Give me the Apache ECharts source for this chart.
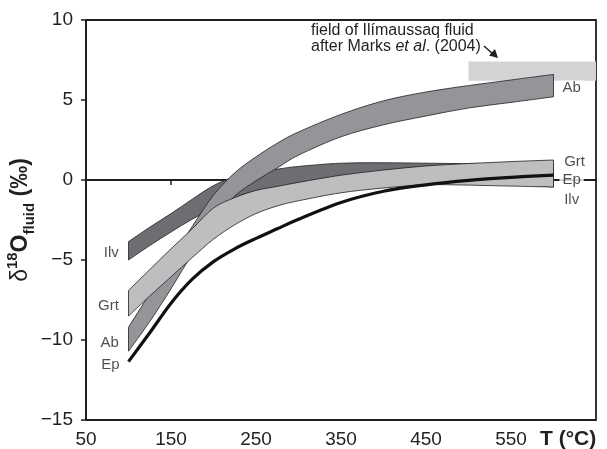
<!DOCTYPE html>
<html>
<head>
<meta charset="utf-8">
<script src="https://cdn.jsdelivr.net/npm/echarts@6/dist/echarts.min.js"></script>
<style>
  html, body { margin: 0; padding: 0; background: #fff; }
  #chart { width: 607px; height: 449px; }
</style>
</head>
<body>
<div id="chart"></div>
<script>
  // temperature grid (°C) shared by all bands
  const temps = [100, 125, 150, 175, 200, 225, 250, 275, 300, 350, 400, 450, 500, 550, 600]

  // band edges, δ18O fluid (‰)
  const ilvTop = [-3.85, -2.95, -2.1, -1.2, -0.35, 0.2, 0.5, 0.68, 0.85, 1.05, 1.08, 1.05, 1.02, 1.0, 1.0]
  const ilvBottom = [-5.0, -4.1, -3.25, -2.45, -1.75, -1.1, -0.7, -0.5, -0.3, -0.1, 0.0, 0.0, -0.1, -0.25, -0.44]
  const abTop = [-9.2, -7.1, -5.0, -2.9, -0.95, 0.45, 1.45, 2.3, 3.0, 4.1, 4.95, 5.5, 5.9, 6.25, 6.6]
  const abBottom = [-10.7, -8.85, -6.8, -4.6, -2.5, -1.0, -0.05, 0.75, 1.55, 2.7, 3.45, 4.0, 4.5, 4.85, 5.2]
  const grtTop = [-6.9, -5.6, -4.3, -3.05, -1.75, -1.1, -0.65, -0.4, -0.15, 0.3, 0.62, 0.88, 1.03, 1.15, 1.25]
  const grtBottom = [-8.5, -7.25, -6.05, -4.85, -3.7, -2.8, -2.1, -1.62, -1.3, -0.8, -0.5, -0.3, -0.32, -0.38, -0.44]
  // epidote curve
  const epValues = [-11.35, -9.55, -7.7, -6.2, -5.1, -4.3, -3.65, -3.05, -2.45, -1.4, -0.7, -0.3, -0.02, 0.17, 0.31]

  // field of Ilímaussaq fluid (Marks et al. 2004)
  const fieldT = [500, 650]
  const fieldD = [6.2, 7.4]

  // zero reference line
  const zeroT = [50, 650]
  const zeroD = [0, 0]

  // curve labels
  const leftNames = ['Ilv', 'Grt', 'Ab', 'Ep']
  const leftT = [91, 91, 91, 92]
  const leftD = [-4.56, -7.88, -10.19, -11.56]
  const rightNames = ['Ab', 'Grt', 'Ep', 'Ilv']
  const rightT = [607, 609, 607, 609]
  const rightD = [5.75, 1.12, 0, -1.25]

  const xTicks = [50, 150, 250, 350, 450, 550]

  const font = "'Liberation Sans', Arial, Helvetica, sans-serif"
  const ink = '#231f20'

  // catmull-rom through pixel points -> svg path
  function smoothPath(pts, start) {
    let d = start + pts[0][0] + ',' + pts[0][1]
    for (let i = 0; i < pts.length - 1; i++) {
      const p0 = pts[Math.max(i - 1, 0)]
      const p1 = pts[i]
      const p2 = pts[i + 1]
      const p3 = pts[Math.min(i + 2, pts.length - 1)]
      const c1 = [p1[0] + (p2[0] - p0[0]) / 6, p1[1] + (p2[1] - p0[1]) / 6]
      const c2 = [p2[0] - (p3[0] - p1[0]) / 6, p2[1] - (p3[1] - p1[1]) / 6]
      d += 'C' + c1[0] + ',' + c1[1] + ' ' + c2[0] + ',' + c2[1] + ' ' + p2[0] + ',' + p2[1]
    }
    return d
  }

  function bandSeries(name, top, bottom, color, z) {
    return {
      type: 'custom',
      name: name,
      z: z,
      silent: true,
      data: temps.map((t, i) => [t, top[i], bottom[i]]),
      renderItem: function (params, api) {
        if (params.dataIndex !== 0) return null
        const upper = temps.map((t, i) => api.coord([t, top[i]]))
        const lower = temps.map((t, i) => api.coord([t, bottom[i]])).reverse()
        const d = smoothPath(upper, 'M') + smoothPath(lower, 'L') + 'Z'
        return {
          type: 'path',
          shape: { pathData: d },
          style: { fill: color, stroke: ink, lineWidth: 0.8 }
        }
      }
    }
  }

  const chart = echarts.init(document.getElementById('chart'))

  const option = {
    animation: false,
    grid: {
      left: 86, right: 11, top: 20, bottom: 29,
      containLabel: false, outerBoundsMode: 'none',
      show: true, borderColor: ink, borderWidth: 1.8
    },
    xAxis: {
      type: 'value',
      min: 50, max: 650, interval: 100,
      axisLine: { lineStyle: { color: ink, width: 1.8 } },
      axisTick: { customValues: xTicks, length: 5, lineStyle: { color: ink, width: 1.5 } },
      axisLabel: { customValues: xTicks, fontSize: 19, color: ink, fontFamily: font, margin: 10 },
      splitLine: { show: false }
    },
    yAxis: {
      type: 'value',
      min: -15, max: 10, interval: 5,
      axisLine: { lineStyle: { color: ink, width: 1.8 } },
      axisTick: { length: 5, lineStyle: { color: ink, width: 1.5 } },
      axisLabel: {
        fontSize: 19, color: ink, fontFamily: font, margin: 13,
        formatter: v => (v < 0 ? '\u2212' + Math.abs(v) : String(v))
      },
      splitLine: { show: false },
      name: '{d|\u03b4}{sup|18}{b|O}{sub|fluid}{b| (\u2030)}',
      nameLocation: 'middle',
      nameRotate: 90,
      nameGap: 49,
      nameMoveOverlap: false,
      nameTextStyle: {
        color: ink,
        fontFamily: font,
        rich: {
          d: { fontSize: 23, fontFamily: font, color: ink, lineHeight: 32 },
          sup: { fontSize: 15, fontWeight: 'bold', fontFamily: font, color: ink, verticalAlign: 'top', lineHeight: 16 },
          b: { fontSize: 23, fontWeight: 'bold', fontFamily: font, color: ink, lineHeight: 32 },
          sub: { fontSize: 15, fontWeight: 'bold', fontFamily: font, color: ink, verticalAlign: 'bottom', lineHeight: 16 }
        }
      }
    },
    graphic: [
      {
        type: 'text', left: 311, top: 23, z: 10,
        style: {
          text: '{n|field of Il\u00edmaussaq fluid}\n{n|after Marks }{i|et al}{n|. (2004)}',
          rich: {
            n: { fontSize: 16, fontFamily: font, fill: ink, lineHeight: 16 },
            i: { fontSize: 16, fontFamily: font, fontStyle: 'italic', fill: ink, lineHeight: 16 }
          }
        }
      },
      {
        type: 'line', z: 10,
        shape: { x1: 484, y1: 46, x2: 494, y2: 55 },
        style: { stroke: ink, lineWidth: 1.5 }
      },
      {
        type: 'polygon', z: 10,
        shape: { points: [[498, 58], [489, 55.5], [495, 49]] },
        style: { fill: ink }
      },
      {
        type: 'text', left: 540, top: 429, z: 10,
        style: {
          text: 'T (\u00b0C)',
          fontSize: 21, fontWeight: 'bold', fontFamily: font, fill: ink
        }
      }
    ],
    series: [
      {
        type: 'custom',
        z: 1,
        silent: true,
        data: [[fieldT[0], fieldD[1], fieldT[1], fieldD[0]]],
        renderItem: function (params, api) {
          const a = api.coord([api.value(0), api.value(1)])
          const b = api.coord([api.value(2), api.value(3)])
          return {
            type: 'rect',
            shape: { x: a[0], y: a[1], width: b[0] - a[0], height: b[1] - a[1] },
            style: { fill: '#d1d3d4' }
          }
        }
      },
      {
        type: 'line',
        z: 1,
        silent: true,
        symbol: 'none',
        data: zeroT.map((t, i) => [t, zeroD[i]]),
        lineStyle: { color: ink, width: 1.5 }
      },
      bandSeries('Ilv', ilvTop, ilvBottom, '#6d6e71', 2),
      bandSeries('Ab', abTop, abBottom, '#939598', 3),
      bandSeries('Grt', grtTop, grtBottom, '#bcbec0', 4),
      {
        type: 'custom',
        name: 'Ep',
        z: 5,
        silent: true,
        data: temps.map((t, i) => [t, epValues[i]]),
        renderItem: function (params, api) {
          if (params.dataIndex !== 0) return null
          const pts = temps.map((t, i) => api.coord([t, epValues[i]]))
          return {
            type: 'path',
            shape: { pathData: smoothPath(pts, 'M') },
            style: { fill: null, stroke: '#111', lineWidth: 3.2, lineCap: 'butt' }
          }
        }
      },
      {
        type: 'scatter',
        z: 6,
        silent: true,
        symbolSize: 0,
        data: leftNames.map((n, i) => [leftT[i], leftD[i], n]),
        label: {
          show: true, position: 'left', distance: 2,
          formatter: p => p.value[2],
          fontSize: 15, fontFamily: font, color: ink
        }
      },
      {
        type: 'scatter',
        z: 6,
        silent: true,
        symbolSize: 0,
        data: rightNames.map((n, i) => [rightT[i], rightD[i], n]),
        label: {
          show: true, position: 'right', distance: 0,
          formatter: p => p.value[2],
          fontSize: 15, fontFamily: font, color: ink,
          backgroundColor: '#fff', padding: [0, 3]
        }
      }
    ]
  }

  chart.setOption(option)
</script>
</body>
</html>
